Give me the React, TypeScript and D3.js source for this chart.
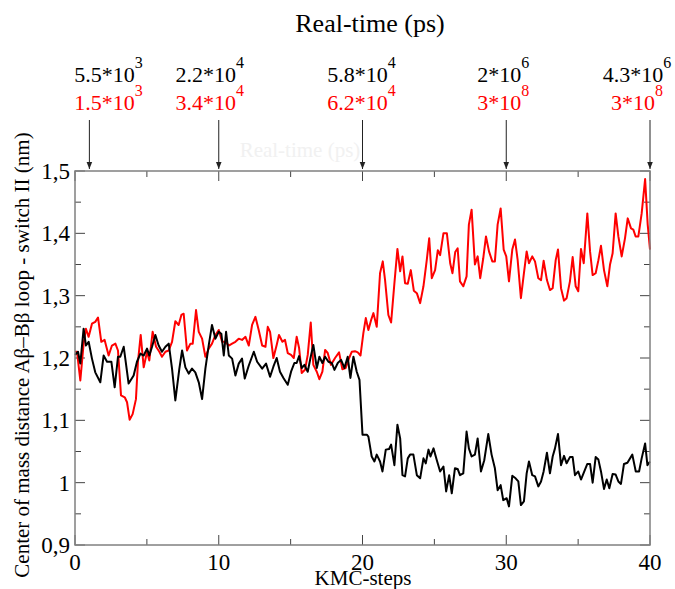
import React from "react";
import * as d3 from "d3";

// KMC step, distance (nm)
const blackSeries: [number, number][] = [
  [0,1.205],[0.21,1.21],[0.37,1.191],[0.6,1.247],[0.76,1.22],[0.95,1.226],[1.18,1.199],[1.41,1.177],[1.76,1.161],[1.99,1.204],
  [2.23,1.194],[2.53,1.194],[2.76,1.153],[2.99,1.202],[3.15,1.202],[3.39,1.218],[3.73,1.159],[4.08,1.172],[4.31,1.194],[4.55,1.207],
  [4.78,1.204],[5.01,1.215],[5.17,1.204],[5.36,1.218],[5.59,1.237],[5.82,1.22],[6.05,1.21],[6.29,1.218],[6.52,1.223],[6.75,1.183],
  [6.98,1.132],[7.26,1.183],[7.45,1.212],[7.68,1.185],[7.91,1.175],[8.14,1.183],[8.37,1.177],[8.61,1.161],[8.84,1.134],[9.07,1.183],
  [9.3,1.22],[9.53,1.253],[9.77,1.231],[10.0,1.242],[10.18,1.239],[10.35,1.204],[10.51,1.242],[10.7,1.204],[10.93,1.199],[11.16,1.172],
  [11.39,1.191],[11.62,1.199],[11.81,1.167],[12.09,1.188],[12.44,1.21],[12.67,1.194],[13.02,1.183],[13.29,1.191],[13.57,1.17],[13.8,1.186],
  [14.03,1.2],[14.26,1.178],[14.5,1.168],[14.8,1.157],[15.03,1.178],[15.26,1.192],[15.42,1.192],[15.59,1.203],[15.77,1.184],[15.96,1.189],
  [16.19,1.178],[16.38,1.2],[16.58,1.221],[16.82,1.184],[17.0,1.202],[17.21,1.192],[17.4,1.202],[17.63,1.194],[17.86,1.192],[18.05,1.181],
  [18.28,1.192],[18.51,1.197],[18.74,1.184],[18.97,1.202],[19.16,1.168],[19.37,1.202],[19.6,1.178],[19.79,1.165],[20.0,1.077],[20.3,1.077],
  [20.41,1.074],[20.64,1.042],[20.83,1.034],[20.99,1.045],[21.22,1.034],[21.39,1.018],[21.62,1.053],[21.85,1.054],[21.99,1.061],[22.22,1.028],
  [22.43,1.093],[22.62,1.071],[22.78,1.012],[22.96,1.01],[23.15,1.039],[23.31,1.045],[23.54,1.045],[23.78,1.012],[24.01,1.007],[24.24,1.039],
  [24.4,1.031],[24.59,1.053],[24.73,1.042],[24.94,1.055],[25.17,1.036],[25.4,1.018],[25.63,1.026],[25.82,0.986],[26.03,1.012],[26.21,0.983],
  [26.43,1.023],[26.62,1.022],[26.78,1.012],[27.01,1.015],[27.24,1.082],[27.4,1.055],[27.59,1.042],[27.82,1.045],[28.01,1.071],[28.24,1.018],
  [28.47,1.036],[28.75,1.078],[28.98,1.045],[29.21,1.023],[29.4,0.988],[29.61,0.996],[29.79,0.972],[30.03,0.975],[30.19,0.962],[30.42,1.011],
  [30.65,1.007],[30.84,1.002],[31.02,0.964],[31.23,0.97],[31.42,1.015],[31.58,1.034],[31.81,1.012],[32.0,1.01],[32.23,0.994],[32.42,1.002],
  [32.6,1.018],[32.83,1.048],[33.04,1.015],[33.23,1.042],[33.39,1.055],[33.6,1.078],[33.81,1.028],[34.02,1.043],[34.2,1.031],[34.43,1.041],
  [34.62,1.041],[34.78,1.012],[35.01,1.018],[35.2,1.005],[35.43,1.018],[35.64,1.03],[35.83,1.03],[36.01,1.0],[36.22,1.041],[36.41,1.037],
  [36.59,1.018],[36.8,0.99],[36.99,1.005],[37.17,0.991],[37.4,1.014],[37.61,1.013],[37.8,1.002],[37.98,0.998],[38.19,1.03],[38.43,1.032],
  [38.77,1.045],[39.01,1.018],[39.24,1.018],[39.42,1.039],[39.66,1.063],[39.82,1.028],[40,1.034],
];

const redSeries: [number, number][] = [
  [0,1.21],[0.14,1.21],[0.37,1.164],[0.6,1.223],[0.76,1.247],[0.95,1.234],[1.18,1.255],[1.41,1.258],[1.6,1.265],[1.83,1.226],
  [2.06,1.229],[2.34,1.204],[2.57,1.22],[2.81,1.223],[2.99,1.212],[3.2,1.14],[3.46,1.137],[3.62,1.129],[3.8,1.101],[4.01,1.11],
  [4.24,1.134],[4.38,1.194],[4.57,1.237],[4.78,1.185],[5.01,1.21],[5.17,1.196],[5.4,1.242],[5.64,1.218],[5.87,1.21],[6.05,1.202],
  [6.29,1.21],[6.52,1.212],[6.75,1.226],[6.98,1.259],[7.21,1.253],[7.4,1.269],[7.56,1.271],[7.79,1.212],[8.03,1.223],[8.19,1.223],
  [8.42,1.277],[8.61,1.242],[8.84,1.231],[9.07,1.202],[9.3,1.215],[9.53,1.223],[9.77,1.237],[10.0,1.245],[10.23,1.226],[10.46,1.226],
  [10.7,1.22],[10.93,1.223],[11.16,1.226],[11.39,1.231],[11.62,1.229],[11.86,1.234],[12.09,1.22],[12.32,1.253],[12.55,1.266],[12.78,1.245],
  [13.02,1.22],[13.25,1.218],[13.41,1.25],[13.57,1.242],[13.8,1.2],[14.03,1.221],[14.19,1.237],[14.43,1.226],[14.61,1.229],[14.8,1.208],
  [15.03,1.205],[15.22,1.2],[15.42,1.234],[15.59,1.216],[15.77,1.176],[16.0,1.181],[16.19,1.205],[16.4,1.257],[16.58,1.189],[16.82,1.178],
  [17.0,1.166],[17.21,1.178],[17.4,1.213],[17.58,1.208],[17.81,1.189],[18.09,1.2],[18.37,1.209],[18.6,1.182],[18.83,1.184],[19.07,1.2],
  [19.25,1.21],[19.48,1.211],[19.67,1.209],[19.86,1.204],[20.06,1.24],[20.23,1.264],[20.41,1.245],[20.6,1.261],[20.76,1.272],[20.99,1.25],
  [21.22,1.336],[21.41,1.355],[21.57,1.325],[21.8,1.269],[21.99,1.257],[22.22,1.32],[22.43,1.375],[22.62,1.339],[22.78,1.363],[22.96,1.32],
  [23.15,1.319],[23.36,1.341],[23.57,1.308],[23.78,1.304],[24.01,1.288],[24.24,1.315],[24.47,1.357],[24.64,1.392],[24.82,1.328],[25.05,1.341],
  [25.24,1.373],[25.4,1.365],[25.63,1.4],[25.87,1.4],[26.1,1.352],[26.26,1.336],[26.45,1.37],[26.62,1.376],[26.78,1.323],[27.01,1.315],
  [27.24,1.331],[27.4,1.414],[27.59,1.438],[27.82,1.35],[28.01,1.363],[28.19,1.328],[28.4,1.36],[28.59,1.395],[28.8,1.371],[29.03,1.355],
  [29.21,1.355],[29.4,1.414],[29.61,1.44],[29.82,1.374],[30.0,1.363],[30.19,1.323],[30.42,1.374],[30.61,1.39],[30.79,1.358],[31.02,1.296],
  [31.23,1.336],[31.42,1.371],[31.58,1.352],[31.81,1.363],[32.0,1.355],[32.23,1.328],[32.42,1.325],[32.6,1.356],[32.83,1.325],[33.04,1.309],
  [33.23,1.312],[33.44,1.357],[33.6,1.374],[33.81,1.312],[34.02,1.292],[34.2,1.296],[34.43,1.323],[34.62,1.362],[34.83,1.315],[35.01,1.307],
  [35.2,1.375],[35.39,1.352],[35.64,1.432],[35.83,1.371],[36.01,1.333],[36.22,1.336],[36.41,1.357],[36.59,1.38],[36.8,1.341],[37.03,1.315],
  [37.22,1.35],[37.4,1.368],[37.61,1.432],[37.8,1.395],[38.03,1.363],[38.26,1.392],[38.45,1.424],[38.68,1.408],[38.84,1.406],[39.0,1.395],
  [39.19,1.395],[39.42,1.432],[39.66,1.487],[39.84,1.414],[40,1.374],
];

const xTicks = [0, 10, 20, 30, 40];
const yTicks = [0.9, 1.0, 1.1, 1.2, 1.3, 1.4, 1.5];
const yTickLabels = ["0,9", "1", "1,1", "1,2", "1,3", "1,4", "1,5"];

// real-time markers
const markerSteps = [1, 10, 20, 30, 40];
const blackTimeBase = ["5.5*10", "2.2*10", "5.8*10", "2*10", "4.3*10"];
const blackTimeExp = ["3", "4", "4", "6", "6"];
const redTimeBase = ["1.5*10", "3.4*10", "6.2*10", "3*10", "3*10"];
const redTimeExp = ["3", "4", "4", "8", "8"];

const W = 675, H = 589;
const left = 75, right = 650, top = 171, bottom = 545;
const labelShift = [19, -9, -1, -3, -13];
const serif = "Liberation Serif, DejaVu Serif, Times New Roman, serif";

export default function App() {
  const x = d3.scaleLinear().domain([0, 40]).range([left, right]);
  const y = d3.scaleLinear().domain([0.9, 1.5]).range([bottom, top]);
  const line = d3.line<[number, number]>().x(d => x(d[0])).y(d => y(d[1]));

  const xMinor = d3.range(0, 41, 5);
  const yMinor = d3.range(0, 13).map(i => 0.9 + i * 0.05);

  return (
    <svg width={W} height={H} style={{ position: "absolute", left: 0, top: 0, background: "white", fontFamily: serif }}>
      <defs>
        <marker id="ah" viewBox="0 0 10 10" refX="10" refY="5" markerWidth="7" markerHeight="9" orient="auto">
          <path d="M0,1 L10,5 L0,9 z" fill="#222" />
        </marker>
      </defs>

      <text x={370} y={32} fontSize={26} textAnchor="middle">Real-time (ps)</text>
      <text x={300} y={157} fontSize={21} textAnchor="middle" fill="#f1f1f1">Real-time (ps)</text>

      {markerSteps.map((s, i) => (
        <g key={"m" + i}>
          <text x={x(s) + labelShift[i]} y={82} fontSize={22} textAnchor="middle">
            {blackTimeBase[i]}<tspan dy={-14} fontSize={16}>{blackTimeExp[i]}</tspan>
          </text>
          <text x={x(s) + labelShift[i]} y={110} fontSize={22} textAnchor="middle" fill="#ff0000">
            {redTimeBase[i]}<tspan dy={-14} fontSize={16}>{redTimeExp[i]}</tspan>
          </text>
          <line x1={x(s)} x2={x(s)} y1={120} y2={top - 2} stroke="#222" strokeWidth={1}
            markerEnd="url(#ah)" />
        </g>
      ))}

      {/* ticks */}
      <g stroke="#444" strokeWidth={1}>
        {xMinor.map(v => {
          const len = v % 10 === 0 ? 10 : 6;
          return (
            <g key={"xt" + v}>
              <line x1={x(v)} x2={x(v)} y1={bottom} y2={bottom - len} />
              <line x1={x(v)} x2={x(v)} y1={top} y2={top + len} />
            </g>
          );
        })}
        {yMinor.map((v, i) => {
          const len = i % 2 === 0 ? 10 : 6;
          return (
            <g key={"yt" + i}>
              <line x1={left} x2={left + len} y1={y(v)} y2={y(v)} />
              <line x1={right} x2={right - len} y1={y(v)} y2={y(v)} />
            </g>
          );
        })}
      </g>

      <path d={line(redSeries) || ""} fill="none" stroke="#ff0000" strokeWidth={2} strokeLinejoin="round" />
      <path d={line(blackSeries) || ""} fill="none" stroke="#000" strokeWidth={2} strokeLinejoin="round" />

      <rect x={left} y={top} width={right - left} height={bottom - top} fill="none" stroke="#808080" strokeWidth={1.5} />

      {yTicks.map((v, i) => (
        <text key={"yl" + i} x={70} y={y(v) + 8} fontSize={23} textAnchor="end">{yTickLabels[i]}</text>
      ))}
      {xTicks.map(v => (
        <text key={"xl" + v} x={x(v)} y={570} fontSize={23} textAnchor="middle">{v}</text>
      ))}
      <text x={363} y={585} fontSize={21} textAnchor="middle">KMC-steps</text>
      <text transform="translate(29,355) rotate(-90)" fontSize={21} textAnchor="middle">
        Center of mass distance Aβ–Bβ loop - switch II (nm)
      </text>
    </svg>
  );
}
